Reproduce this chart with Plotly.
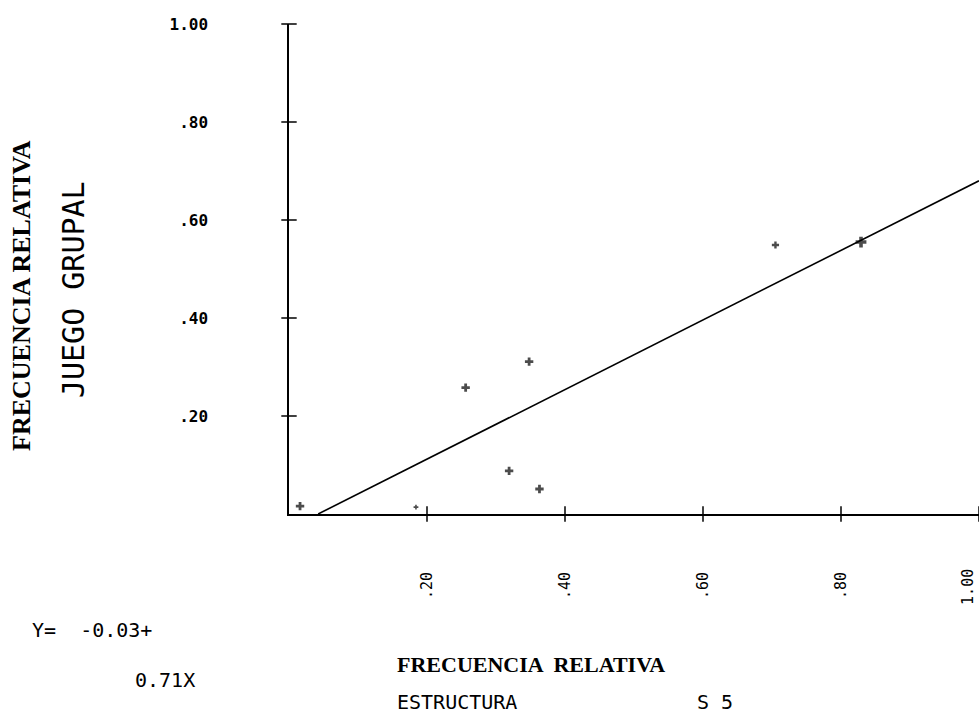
import plotly.graph_objects as go

# data
x_vals = [0.016, 0.184, 0.256, 0.348, 0.319, 0.363, 0.705, 0.829]
y_vals = [0.016, 0.014, 0.258, 0.311, 0.088, 0.051, 0.549, 0.555]
intercept = -0.03
slope = 0.71

x_ticks = [0.2, 0.4, 0.6, 0.8, 1.0]
x_tick_text = [".20", ".40", ".60", ".80", "1.00"]
y_ticks = [0.2, 0.4, 0.6, 0.8, 1.0]
y_tick_text = [".20", ".40", ".60", ".80", "1.00"]

y_title_1 = "FRECUENCIA RELATIVA"
y_title_2 = "JUEGO GRUPAL"
x_title_1 = "FRECUENCIA  RELATIVA"
x_title_2 = "ESTRUCTURA"
x_title_3 = "S 5"

MONO = "DejaVu Sans Mono"
SERIF = "Liberation Serif"

fig = go.Figure()

# regression line
x_start = -intercept / slope
line_x = [x_start, 1.0]
line_y = [intercept + slope * v for v in line_x]
fig.add_trace(go.Scatter(x=line_x, y=line_y, mode="lines",
                         line=dict(color="black", width=1.6),
                         hoverinfo="skip", showlegend=False))

# data points
fig.add_trace(go.Scatter(x=x_vals, y=y_vals, mode="markers",
                         marker=dict(symbol="cross", size=[7, 4, 7, 7, 7, 7, 6, 9],
                                     color="black", line=dict(width=0)),
                         cliponaxis=False, showlegend=False))

# crossing tick marks
fig.add_trace(go.Scatter(x=[0] * len(y_ticks), y=y_ticks, mode="markers",
                         marker=dict(symbol="line-ew", size=11,
                                     line=dict(color="black", width=1.5)),
                         cliponaxis=False, hoverinfo="skip", showlegend=False))
fig.add_trace(go.Scatter(x=x_ticks, y=[0] * len(x_ticks), mode="markers",
                         marker=dict(symbol="line-ns", size=11,
                                     line=dict(color="black", width=1.5)),
                         cliponaxis=False, hoverinfo="skip", showlegend=False))

# last x tick sits on the right edge of the page: label it as an annotation kept inside
fig.update_xaxes(range=[0, 1.0], showgrid=False, zeroline=False, automargin=False,
                 showline=True, linecolor="black", linewidth=1.8,
                 tickmode="array", tickvals=x_ticks[:-1], ticktext=x_tick_text[:-1],
                 tickangle=-90, ticks="", ticklabelstandoff=50,
                 tickfont=dict(family=MONO, size=15, color="black"))
fig.update_yaxes(range=[0, 1.0], showgrid=False, zeroline=False, automargin=False,
                 showline=True, linecolor="black", linewidth=1.5,
                 tickmode="array", tickvals=y_ticks, ticktext=y_tick_text,
                 ticks="", ticklabelstandoff=76,
                 tickfont=dict(family=MONO, size=16, color="black", weight="bold"))

ann = [
    dict(text=x_tick_text[-1], x=x_ticks[-1], xref="x", y=-0.108, yref="paper",
         textangle=-90, xanchor="right", yanchor="top",
         font=dict(family=MONO, size=15, color="black")),
    dict(text="<b>" + y_title_1 + "</b>", x=-0.387, y=0.447, textangle=-90,
         xanchor="center", yanchor="middle",
         font=dict(family=SERIF, size=26, color="black")),
    dict(text=y_title_2, x=-0.313, y=0.457, textangle=-90, xanchor="center", yanchor="middle",
         font=dict(family=MONO, size=30, color="black")),
    dict(text="<b>" + x_title_1 + "</b>", x=0.1536, y=-0.308, xanchor="left", yanchor="middle",
         font=dict(family=SERIF, size=22, color="black")),
    dict(text=x_title_2, x=0.1536, y=-0.384, xanchor="left", yanchor="middle",
         font=dict(family=MONO, size=20, color="black")),
    dict(text=x_title_3, x=0.588, y=-0.384, xanchor="left", yanchor="middle",
         font=dict(family=MONO, size=20, color="black")),
    dict(text=f"Y=  {intercept:.2f}+", x=-0.375, y=-0.237, xanchor="left", yanchor="middle",
         font=dict(family=MONO, size=20, color="black")),
    dict(text=f"{slope:.2f}X", x=-0.226, y=-0.339, xanchor="left", yanchor="middle",
         font=dict(family=MONO, size=20, color="black")),
]
for a in ann:
    a.setdefault("xref", "paper")
    a.setdefault("yref", "paper")
    a.update(showarrow=False)
fig.update_layout(annotations=ann)

fig.update_layout(width=979, height=715, margin=dict(l=289, r=0, t=24, b=201),
                  plot_bgcolor="white", paper_bgcolor="white", showlegend=False)

fig.write_html("out.html", config={"displayModeBar": False},
               post_script="document.body.style.margin='0';"
                           "document.body.style.overflow='hidden';"
                           "document.documentElement.style.overflow='hidden';")
